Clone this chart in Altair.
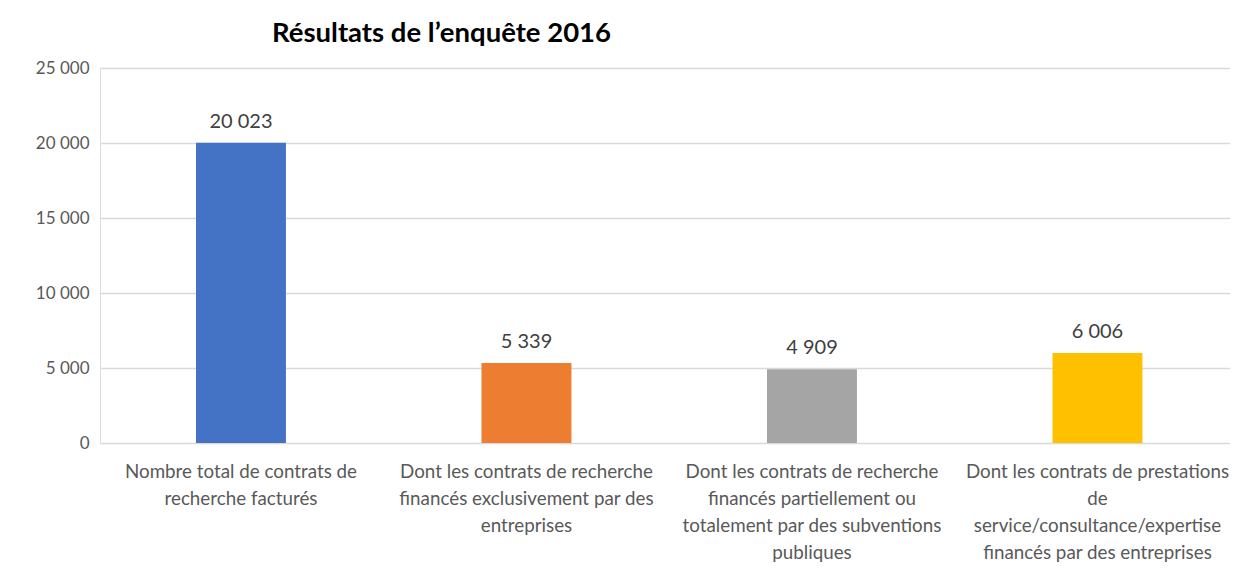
import altair as alt
import pandas as pd

categories = [
    "Nombre total de contrats de|recherche facturés",
    "Dont les contrats de recherche|financés exclusivement par des|entreprises",
    "Dont les contrats de recherche|financés partiellement ou|totalement par des subventions|publiques",
    "Dont les contrats de prestations|de|service/consultance/expertise|financés par des entreprises",
]
values = [20023, 5339, 4909, 6006]
colors = ["#4472C4", "#ED7D31", "#A5A5A5", "#FFC000"]

df = pd.DataFrame({"cat": categories, "val": values, "col": colors})

FONT = "Lato"

x = alt.X(
    "cat:N",
    sort=categories,
    title=None,
    scale=alt.Scale(paddingInner=0.685, paddingOuter=0.3215, align=0.523),
    axis=alt.Axis(
        labelExpr="split(datum.label, '|')",
        labelAngle=0,
        labelFontSize=18.8,
        labelColor="#595959",
        labelFont=FONT,
        labelLineHeight=27.3,
        labelPadding=28,
        labelBaseline="middle",
        ticks=False,
        domain=False,
        grid=False,
        labelLimit=300,
    ),
)
y = alt.Y(
    "val:Q",
    title=None,
    scale=alt.Scale(domain=[0, 25000], nice=False),
    axis=alt.Axis(
        values=[0, 5000, 10000, 15000, 20000, 25000],
        format=",d",
        labelFontSize=17,
        labelColor="#595959",
        labelFont=FONT,
        labelPadding=11,
        ticks=False,
        domain=False,
        gridColor="#D9D9D9",
        gridWidth=1.5,
    ),
)

base = alt.Chart(df)
bars = base.mark_bar().encode(
    x=x, y=y, color=alt.Color("col:N", scale=None, legend=None)
)
labels = base.mark_text(
    baseline="bottom", dy=-11, fontSize=20, color="#404040", font=FONT
).encode(x=alt.X("cat:N", sort=categories), y="val:Q", text=alt.Text("val:Q", format=",d"))

chart = (
    alt.layer(bars, labels)
    .properties(
        width=1130,
        height=375,
        autosize=alt.AutoSizeParams(type="none"),
        padding={"left": 92, "top": 60, "right": 0, "bottom": 124},
        title=alt.TitleParams(
            "Résultats de l’enquête 2016",
            anchor="start",
            frame="group",
            dx=172,
            offset=12,
            fontSize=27.5,
            fontWeight="bold",
            font=FONT,
            color="#000000",
        ),
    )
    .configure_view(stroke=None)
    .configure(
        locale=alt.Locale(
            number=alt.NumberLocale(
                decimal=",", thousands=" ", grouping=[3], currency=["", " €"]
            )
        )
    )
)

chart.save("out.html", embed_options={"renderer": "svg", "actions": False})
